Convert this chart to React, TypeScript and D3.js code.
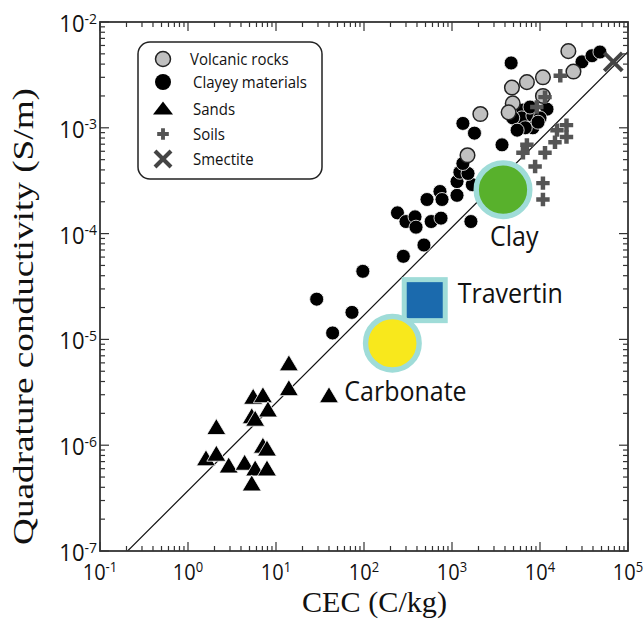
import React from "react";
import * as d3 from "d3";

const W = 644;
const H = 619;
const PLOT = { left: 100, right: 628, top: 22, bottom: 551 };

const xDomain: [number, number] = [1e-1, 1e5];
const yDomain: [number, number] = [1e-7, 1e-2];
const xTickExps = [-1, 0, 1, 2, 3, 4, 5];
const yTickExps = [-7, -6, -5, -4, -3, -2];

// Each point: [CEC (C/kg), quadrature conductivity (S/m)]
const clayeyMaterials: [number, number][] = [
  [29, 2.4e-5], [44, 1.15e-5], [73, 1.8e-5], [97, 4.4e-5], [280, 6.1e-5],
  [480, 7.8e-5], [240, 1.57e-4], [300, 1.3e-4], [380, 1.44e-4], [390, 1.15e-4],
  [580, 1.3e-4], [750, 1.4e-4], [520, 2.1e-4], [730, 2.5e-4], [770, 2.1e-4],
  [1140, 2.3e-4], [1140, 3.1e-4], [1700, 2.9e-4], [1230, 3.8e-4], [1520, 3.7e-4],
  [1330, 4.6e-4], [1640, 1.3e-4], [1330, 1.1e-3], [1800, 8.9e-4], [3700, 6.9e-4],
  [4700, 4.1e-3], [3.0e4, 4.2e-3], [3.9e4, 4.8e-3], [4.8e4, 5.2e-3],
  [6400, 1.47e-3], [6200, 1.24e-3], [8300, 1.3e-3], [8300, 1.0e-3], [1.2e4, 1.5e-3],
  [1.0e4, 1.24e-3], [4900, 1.24e-3], [6800, 1.0e-3], [7700, 1.57e-3], [9500, 1.13e-3],
  [5500, 9.5e-4],
];

const volcanicRocks: [number, number][] = [
  [2.1e4, 5.3e-3], [2.4e4, 3.4e-3], [4800, 2.4e-3], [7100, 2.7e-3], [1.08e4, 3.0e-3],
  [1.08e4, 2.0e-3], [4900, 1.7e-3], [4400, 1.4e-3], [2100, 1.35e-3], [1500, 5.5e-4],
];

const soils: [number, number][] = [
  [1.7e4, 3.1e-3], [1.14e4, 1.95e-3], [9200, 1.57e-3], [2.0e4, 1.06e-3], [1.56e4, 9.5e-4],
  [2.0e4, 8.2e-4], [1.48e4, 7.3e-4], [7100, 6.9e-4], [6400, 5.8e-4], [1.14e4, 5.8e-4],
  [8800, 4.3e-4], [1.08e4, 3.0e-4], [1.08e4, 2.1e-4],
];

const sands: [number, number][] = [
  [14, 6.0e-6], [14, 3.5e-6], [5.5, 2.9e-6], [7.1, 3.0e-6], [8.1, 2.2e-6],
  [5.3, 1.9e-6], [5.8, 1.8e-6], [2.1, 1.5e-6], [7.1, 1.0e-6], [7.9, 9.4e-7],
  [1.6, 7.6e-7], [2.1, 8.4e-7], [2.9, 6.5e-7], [4.4, 6.9e-7], [5.8, 6.1e-7],
  [7.9, 6.1e-7], [5.3, 4.4e-7], [40, 3.0e-6],
];

const smectite: [number, number][] = [[6.8e4, 4.2e-3]];

// Highlighted materials
const highlightNames = ["Clay", "Travertin", "Carbonate"];
const highlightCEC = [3800, 490, 210];
const highlightSigma = [2.6e-4, 2.35e-5, 9.2e-6];
const highlightShapes = ["circle", "square", "circle"];
const highlightFills = ["#58b12c", "#1b6aad", "#f8e81c"];
const highlightLabelDx = [-13, 33, -48];
const highlightLabelDy = [56, 3, 58];

// Power-law trend: log10(sigma) = intercept + slope * log10(CEC)
const trendIntercept = -6.43;
const trendSlope = 0.83;

const legendLabels = ["Volcanic rocks", "Clayey materials", "Sands", "Soils", "Smectite"];

const SANS = "'Open Sans', 'Noto Sans', sans-serif";
const SERIF = "'Liberation Serif', 'Times New Roman', serif";
const RING = "#9fdcd8";
const SOIL = "#555555";

function SText(props: {
  x: number; y: number; sy?: number; size: number; family?: string;
  anchor?: "start" | "middle" | "end"; children: React.ReactNode;
}) {
  const { x, y, sy = 1, size, family = SANS, anchor = "start", children } = props;
  return (
    <g transform={`translate(${x},${y}) scale(1,${sy})`}>
      <text x={0} y={0} fontSize={size} fontFamily={family} textAnchor={anchor} fill="#111">
        {children}
      </text>
    </g>
  );
}

const triPath = (w: number, h: number) => `M0,${-h / 2}L${w / 2},${h / 2}L${-w / 2},${h / 2}Z`;
const crossPath = (size: number) => d3.symbol(d3.symbolCross, size)() as string;

function XMark({ cx, cy, s }: { cx: number; cy: number; s: number }) {
  return (
    <g transform={`translate(${cx},${cy})`} stroke="#444" strokeWidth={4}>
      <line x1={-s} y1={-s} x2={s} y2={s} />
      <line x1={-s} y1={s} x2={s} y2={-s} />
    </g>
  );
}

export default function App() {
  const x = d3.scaleLog().domain(xDomain).range([PLOT.left, PLOT.right]);
  const y = d3.scaleLog().domain(yDomain).range([PLOT.bottom, PLOT.top]);

  const minor = (exps: number[]) => {
    const out: { v: number; major: boolean }[] = [];
    exps.forEach((e, i) => {
      if (i === exps.length - 1) {
        out.push({ v: Math.pow(10, e), major: true });
        return;
      }
      for (let m = 1; m <= 9; m++) out.push({ v: m * Math.pow(10, e), major: m === 1 });
    });
    return out;
  };
  const xTicks = minor(xTickExps);
  const yTicks = minor(yTickExps);

  const trend = (c: number) => Math.pow(10, trendIntercept + trendSlope * Math.log10(c));
  const trendLine = d3.line<number>().x((c) => x(c)).y((c) => y(trend(c)));

  const majorLen = 9;
  const minorLen = 5;

  return (
    <svg width={W} height={H} style={{ position: "absolute", left: 0, top: 0, background: "#fff" }}>
      <defs>
        <clipPath id="plot-clip">
          <rect x={PLOT.left} y={PLOT.top} width={PLOT.right - PLOT.left} height={PLOT.bottom - PLOT.top} />
        </clipPath>
      </defs>

      {/* trend line */}
      <path d={trendLine(xDomain) as string} stroke="#111" strokeWidth={1.2} fill="none" clipPath="url(#plot-clip)" />

      {/* clayey materials */}
      {clayeyMaterials.map(([c, s], i) => (
        <circle key={`c${i}`} cx={x(c)} cy={y(s)} r={7} fill="#000" stroke="#fff" strokeWidth={0.8} />
      ))}
      {/* volcanic rocks */}
      {volcanicRocks.map(([c, s], i) => (
        <circle key={`v${i}`} cx={x(c)} cy={y(s)} r={7.3} fill="#c0c0c0" stroke="#222" strokeWidth={1.5} />
      ))}
      {/* soils */}
      {soils.map(([c, s], i) => (
        <path key={`s${i}`} d={crossPath(100)} transform={`translate(${x(c)},${y(s)})`} fill={SOIL} />
      ))}
      {/* smectite */}
      {smectite.map(([c, s], i) => (
        <XMark key={`m${i}`} cx={x(c)} cy={y(s)} s={9} />
      ))}
      {/* sands */}
      {sands.map(([c, s], i) => (
        <path key={`t${i}`} d={triPath(19, 16)} transform={`translate(${x(c)},${y(s)})`} fill="#000" stroke="#fff" strokeWidth={0.8} />
      ))}

      {/* highlighted materials */}
      {highlightNames.map((name, i) => {
        const cx = x(highlightCEC[i]);
        const cy = y(highlightSigma[i]);
        return (
          <g key={name}>
            {highlightShapes[i] === "circle" ? (
              <circle cx={cx} cy={cy} r={26.8} fill={highlightFills[i]} stroke={RING} strokeWidth={5.4} />
            ) : (
              <rect x={cx - 20.5} y={cy - 20.5} width={41} height={41} fill={highlightFills[i]} stroke={RING} strokeWidth={5} />
            )}
            <SText x={cx + highlightLabelDx[i]} y={cy + highlightLabelDy[i]} size={25} sy={1.08}>
              {name}
            </SText>
          </g>
        );
      })}

      {/* ticks on all four sides, pointing inward */}
      <g stroke="#333" strokeWidth={1.2}>
        {xTicks.map((t, i) => {
          const px = x(t.v);
          const len = t.major ? majorLen : minorLen;
          return (
            <g key={`xt${i}`}>
              <line x1={px} x2={px} y1={PLOT.bottom} y2={PLOT.bottom - len} />
              <line x1={px} x2={px} y1={PLOT.top} y2={PLOT.top + len} />
            </g>
          );
        })}
        {yTicks.map((t, i) => {
          const py = y(t.v);
          const len = t.major ? majorLen : minorLen;
          return (
            <g key={`yt${i}`}>
              <line x1={PLOT.left} x2={PLOT.left + len} y1={py} y2={py} />
              <line x1={PLOT.right} x2={PLOT.right - len} y1={py} y2={py} />
            </g>
          );
        })}
      </g>

      {/* frame */}
      <rect x={PLOT.left} y={PLOT.top} width={PLOT.right - PLOT.left} height={PLOT.bottom - PLOT.top} fill="none" stroke="#333" strokeWidth={1.8} />

      {/* tick labels */}
      {xTickExps.map((e) => (
        <SText key={`xl${e}`} x={x(Math.pow(10, e))} y={580} size={20} sy={1.12} anchor="middle">
          10<tspan dy={-7} fontSize={13}>{e}</tspan>
        </SText>
      ))}
      {yTickExps.map((e) => (
        <SText key={`yl${e}`} x={97} y={y(Math.pow(10, e)) + 10} size={22} sy={1.05} anchor="end">
          10<tspan dy={-8} fontSize={14}>{e}</tspan>
        </SText>
      ))}

      {/* axis titles */}
      <text
        x={0}
        y={0}
        transform={`translate(33,${(88 + 545) / 2}) rotate(-90)`}
        fontSize={30}
        fontFamily={SERIF}
        textAnchor="middle"
        textLength={457}
        lengthAdjust="spacingAndGlyphs"
        fill="#111"
      >
        Quadrature conductivity (S/m)
      </text>
      <text
        x={302}
        y={612}
        fontSize={29.5}
        fontFamily={SERIF}
        textLength={145}
        lengthAdjust="spacingAndGlyphs"
        fill="#111"
      >
        CEC (C/kg)
      </text>

      {/* legend */}
      <g>
        <rect x={138} y={42} width={184} height={137} rx={12} ry={12} fill="#fff" stroke="#222" strokeWidth={1.5} />
        {legendLabels.map((label, i) => {
          const baseY = [65, 88, 115, 140, 165][i];
          const my = baseY - 5;
          const mx = 163;
          let marker: React.ReactNode = null;
          if (i === 0) marker = <circle cx={mx} cy={my - 1} r={7.5} fill="#c0c0c0" stroke="#222" strokeWidth={1.5} />;
          if (i === 1) marker = <circle cx={mx} cy={my - 1} r={8} fill="#000" />;
          if (i === 2) marker = <path d={triPath(20, 13)} transform={`translate(${mx},${my - 2})`} fill="#000" />;
          if (i === 3) marker = <path d={crossPath(75)} transform={`translate(${mx},${my - 1})`} fill={SOIL} />;
          if (i === 4) marker = <XMark cx={mx} cy={my - 1} s={8} />;
          return (
            <g key={label}>
              {marker}
              <SText x={i === 0 ? 190 : 193} y={baseY} size={15} sy={1.12}>
                {label}
              </SText>
            </g>
          );
        })}
      </g>
    </svg>
  );
}
